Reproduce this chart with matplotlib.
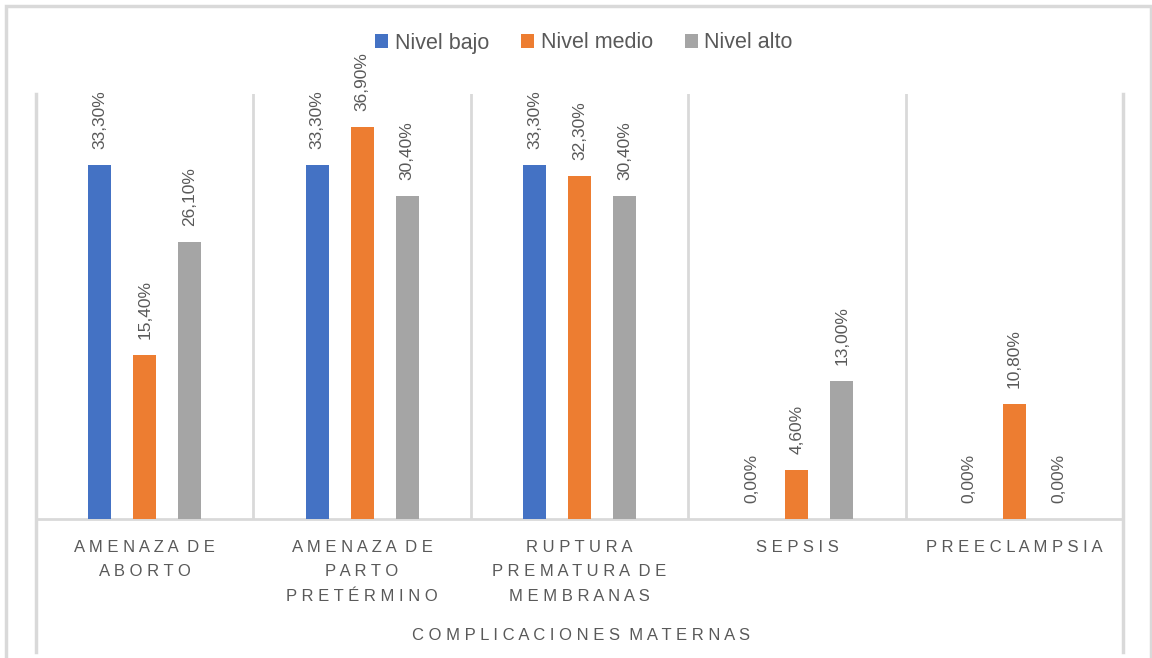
import matplotlib
matplotlib.use('Agg')
import matplotlib.pyplot as plt
from matplotlib.patches import Rectangle
from matplotlib.lines import Line2D
import numpy as np

# Datos
categorias = ['AMENAZA DE\nABORTO', 'AMENAZA DE\nPARTO\nPRETÉRMINO',
              'RUPTURA\nPREMATURA DE\nMEMBRANAS', 'SEPSIS', 'PREECLAMPSIA']
nivel_bajo = [33.3, 33.3, 33.3, 0.0, 0.0]
nivel_medio = [15.4, 36.9, 32.3, 4.6, 10.8]
nivel_alto = [26.1, 30.4, 30.4, 13.0, 0.0]
series = ['Nivel bajo', 'Nivel medio', 'Nivel alto']
titulo_eje = 'COMPLICACIONES MATERNAS'

colores = ['#4472C4', '#ED7D31', '#A5A5A5']
gris_texto = '#595959'
gris_linea = '#D9D9D9'

plt.rcParams['font.family'] = ['Liberation Sans', 'DejaVu Sans']


def espaciado(texto):
    """Simula el espaciado entre letras de Excel."""
    lineas = []
    for linea in texto.split('\n'):
        palabras = [' '.join(p) for p in linea.split(' ')]
        lineas.append('  '.join(palabras))
    return '\n'.join(lineas)


W, H = 1152, 658
fig = plt.figure(figsize=(W / 100, H / 100), dpi=100)
ax = fig.add_axes([36 / W, 1 - 519 / H, (1123 - 36) / W, (519 - 94) / H])

x = np.arange(len(categorias))
offsets = [-0.207, 0.0, 0.207]
ancho = 0.106

for datos, off, color, nombre in zip([nivel_bajo, nivel_medio, nivel_alto],
                                     offsets, colores, series):
    ax.bar(x + off, datos, width=ancho, color=color, label=nombre, zorder=3)
    for xi, v in zip(x + off, datos):
        ax.annotate(f"{v:.2f}%".replace('.', ','), (xi, v),
                    xytext=(0, 11.5), textcoords='offset points',
                    rotation=90, ha='center', va='bottom',
                    fontsize=12.5, color=gris_texto)

ax.set_xlim(-0.5, len(categorias) - 0.5)
ax.set_ylim(0, 40)
ax.set_yticks([])
ax.set_xticks(x)
ax.set_xticklabels([espaciado(c) for c in categorias], fontsize=12,
                   color=gris_texto, linespacing=1.78, va='top')
ax.tick_params(axis='x', length=0, pad=15)

for s in ['top', 'left', 'right']:
    ax.spines[s].set_visible(False)
ax.spines['bottom'].set_color(gris_linea)
ax.spines['bottom'].set_linewidth(2)

# divisores entre categorias
for xd in np.arange(0.5, len(categorias) - 1, 1.0):
    ax.axvline(xd, color=gris_linea, lw=2, zorder=1)

# lineas externas del eje multinivel
for xf in [36 / W, 1123 / W]:
    fig.add_artist(Line2D([xf, xf], [1 - 94 / H, 1 - 652 / H],
                          color=gris_linea, lw=2.5))

fig.text(581 / W, 1 - 635 / H, espaciado(titulo_eje), ha='center',
         va='center', fontsize=12, color=gris_texto)

# marco del grafico
fig.add_artist(Rectangle((6 / W, -0.05), (1151 - 6) / W, 1.05 - 6 / H,
                         transform=fig.transFigure, fill=False,
                         edgecolor=gris_linea, lw=2.5))

fig.legend(loc='center', bbox_to_anchor=(584 / W, 1 - 43 / H), ncol=3,
           frameon=False, fontsize=15.5, labelcolor=gris_texto,
           handlelength=0.6, handleheight=0.6, handletextpad=0.3,
           columnspacing=1.5)

fig.savefig('out.png', dpi=100)
